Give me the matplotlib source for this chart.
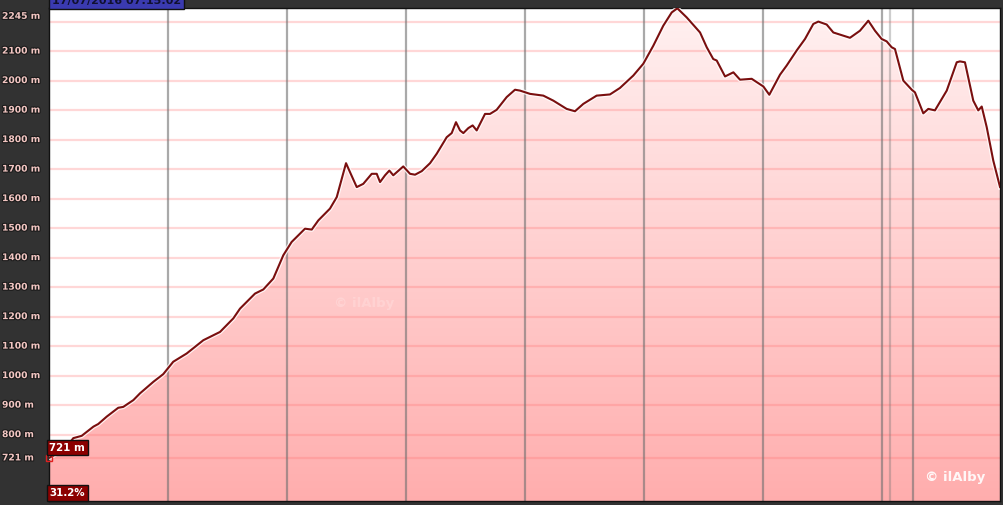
import numpy as np
import matplotlib
matplotlib.use('Agg')
import matplotlib.pyplot as plt
import matplotlib.patheffects as pe
from matplotlib.transforms import blended_transform_factory

# elevation profile (x in chart units, 1 unit per vertical grid line)
dist = [0.0, 0.109, 0.193, 0.204, 0.275, 0.373, 0.414, 0.485, 0.582, 0.624,
        0.709, 0.765, 0.877, 0.960, 1.044, 1.157, 1.297, 1.437, 1.549, 1.605,
        1.731, 1.801, 1.885, 1.969, 2.039, 2.109, 2.151, 2.208, 2.263, 2.361,
        2.418, 2.460, 2.496, 2.529, 2.586, 2.641, 2.712, 2.754, 2.782, 2.824,
        2.860, 2.893, 2.977, 3.034, 3.076, 3.132, 3.202, 3.258, 3.342, 3.384,
        3.420, 3.454, 3.482, 3.524, 3.560, 3.594, 3.664, 3.706, 3.762, 3.846,
        3.916, 3.958, 4.042, 4.154, 4.238, 4.350, 4.420, 4.490, 4.602, 4.714,
        4.798, 4.910, 4.994, 5.078, 5.162, 5.233, 5.280, 5.359, 5.471, 5.527,
        5.582, 5.611, 5.681, 5.751, 5.807, 5.905, 6.003, 6.053, 6.143, 6.199,
        6.283, 6.353, 6.423, 6.465, 6.535, 6.591, 6.731, 6.815, 6.885, 6.941,
        6.997, 7.039, 7.081, 7.109, 7.179, 7.250, 7.277, 7.347, 7.389, 7.445,
        7.544, 7.628, 7.655, 7.697, 7.767, 7.809, 7.838, 7.880, 7.935, 7.992]
elev = [721, 745, 782, 788, 796, 827, 836, 861, 891, 894,
        917, 940, 979, 1005, 1047, 1075, 1120, 1148, 1194, 1227,
        1278, 1292, 1329, 1408, 1453, 1481, 1498, 1495, 1526, 1566,
        1605, 1667, 1720, 1690, 1639, 1650, 1684, 1684, 1656, 1679,
        1695, 1679, 1709, 1684, 1681, 1693, 1720, 1752, 1808, 1822,
        1859, 1831, 1822, 1839, 1848, 1831, 1887, 1887, 1901, 1944,
        1969, 1966, 1955, 1949, 1932, 1904, 1896, 1921, 1949, 1953,
        1975, 2017, 2057, 2118, 2186, 2231, 2245, 2214, 2163, 2113,
        2073, 2068, 2014, 2028, 2003, 2006, 1980, 1952, 2020, 2051,
        2102, 2141, 2192, 2200, 2190, 2163, 2145, 2169, 2203, 2169,
        2141, 2133, 2113, 2107, 2000, 1969, 1960, 1889, 1904, 1899,
        1966, 2062, 2065, 2062, 1932, 1899, 1912, 1842, 1729, 1639]

tick_vals = [2245, 2100, 2000, 1900, 1800, 1700, 1600, 1500, 1400, 1300,
             1200, 1100, 1000, 900, 800, 721]
grid_vals = [2200, 2100, 2000, 1900, 1800, 1700, 1600, 1500, 1400, 1300,
             1200, 1100, 1000, 900, 800, 721]
vlines = [1, 2, 3, 4, 5, 6, 7, 7.067, 7.261]
start_label = '721 m'
grade_label = '31.2%'
stamp = '17/07/2016 07:15:02'

W, H = 1004, 505
fig = plt.figure(figsize=(W / 100, H / 100), dpi=100)
fig.patch.set_facecolor('#323232')
ax = fig.add_axes([49 / W, 4 / H, 951 / W, 493 / H])
ax.set_facecolor('white')
ax.set_xlim(0, 951 / 119)
ax.set_ylim(575, 2246)
ax.set_xticks([])
ax.set_yticks([])
for s in ax.spines.values():
    s.set_color('#111111')
    s.set_linewidth(1)

# gradient fill under the profile
poly = ax.fill_between(dist, elev, 575, color='none', lw=0)
grad = np.linspace(0, 1, 256).reshape(-1, 1)
top = np.array([1.0, 0.945, 0.945])
bot = np.array([1.0, 0.68, 0.68])
img = bot + grad[..., None] * (top - bot)
im = ax.imshow(img, extent=[0, 951 / 119, 575, 2246], origin='lower',
               aspect='auto', zorder=1)
im.set_clip_path(poly.get_paths()[0], transform=ax.transData)

for g in grid_vals:
    ax.axhline(g, color='#ff7070', alpha=0.28, lw=1.6, zorder=2)
for v in vlines:
    a = 0.35 if v == 7.067 else 0.6
    ax.axvline(v, color='#707070', alpha=a, lw=1.6, zorder=2)

ax.plot(dist, elev, color='#7a0f0f', lw=1.5, zorder=4,
        path_effects=[pe.Stroke(linewidth=3.3, foreground='white', alpha=0.8), pe.Normal()])

# y labels on the dark panel
tr = blended_transform_factory(fig.transFigure, ax.transData)
outline = [pe.withStroke(linewidth=1.6, foreground='#1a1a1a')]
for v in tick_vals:
    va = 'top' if v == tick_vals[0] else 'center'
    yy = v - 12 if v == tick_vals[0] else v
    ax.text(2 / W, yy, f'{v} m', transform=tr, ha='left', va=va,
            fontsize=6.6, fontweight='bold', color='#f2c6c2',
            path_effects=outline, clip_on=False)

# boxes at the start of the track
ax.plot([0.0], [721], marker='s', ms=5, mfc='none', mec='#e02020', mew=1,
        zorder=6, clip_on=False)
ax.text(0.004, 756, start_label, ha='left', va='center', fontsize=7.4,
        fontweight='bold', color='white', zorder=7,
        bbox=dict(boxstyle='square,pad=0.25', fc='#8c0000', ec='#111111', lw=1))
ax.text(0.004, 602, grade_label, ha='left', va='center', fontsize=7.4,
        fontweight='bold', color='white', zorder=7,
        bbox=dict(boxstyle='square,pad=0.25', fc='#8c0000', ec='#111111', lw=1))

# time stamp box cut by the top edge
fig.text(52 / W, 1 - 1 / H, stamp, ha='left', va='center', fontsize=8,
         fontweight='bold', color='#101030',
         bbox=dict(boxstyle='square,pad=0.25', fc='#3a3ab0', ec='#111111', lw=1))

# watermarks
ax.text(0.985, 0.035, '© ilAlby', transform=ax.transAxes, ha='right', va='bottom',
        fontsize=9.5, fontweight='bold', color='white', alpha=0.9, zorder=7)
ax.text(0.3, 0.4, '© ilAlby', transform=ax.transAxes, ha='left', va='center',
        fontsize=9.5, fontweight='bold', color='white', alpha=0.2, zorder=3)

fig.savefig('out.png', dpi=100, facecolor=fig.get_facecolor())
